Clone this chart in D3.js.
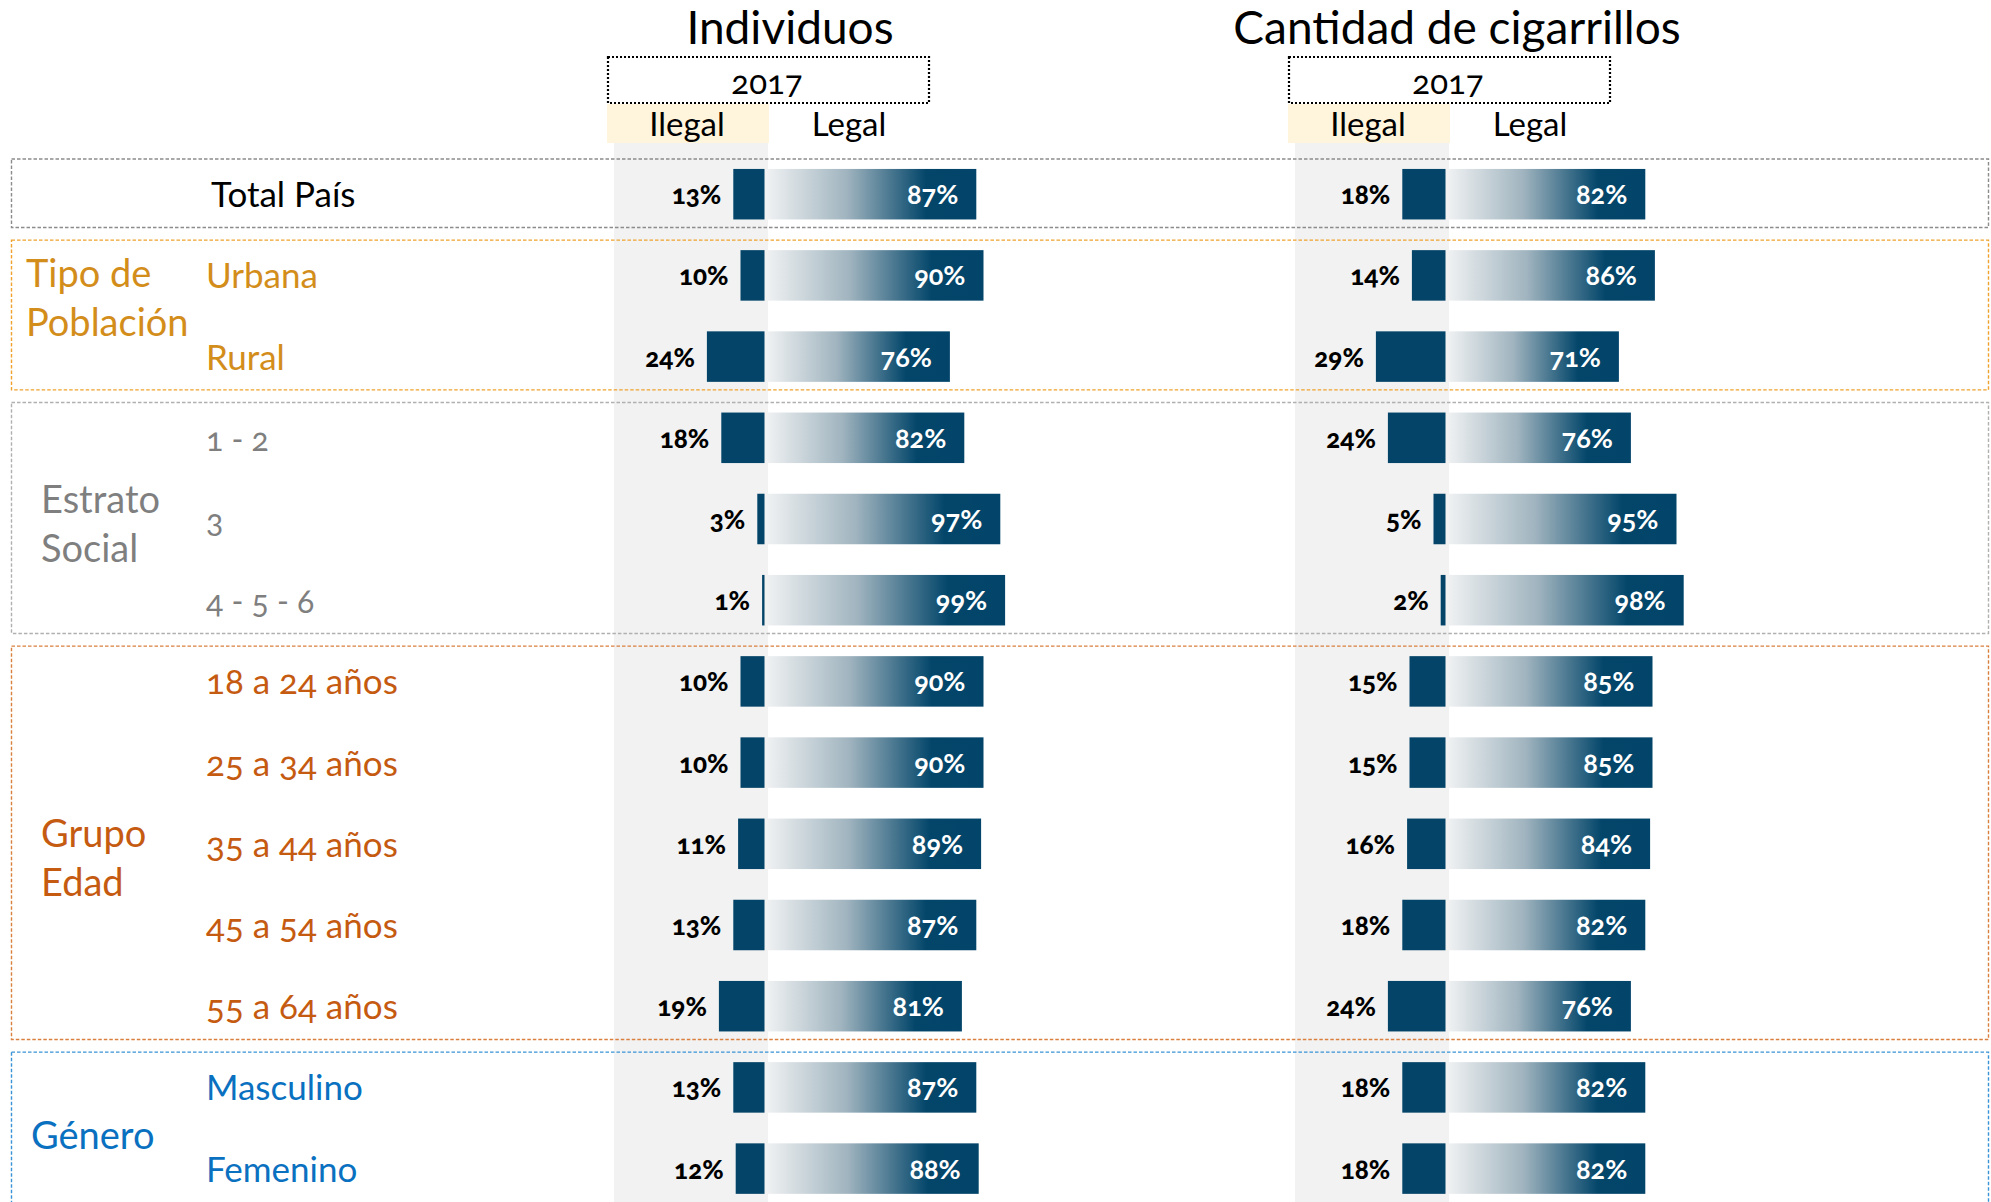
<!DOCTYPE html>
<html>
<head>
<meta charset="utf-8">
<script src="https://cdn.jsdelivr.net/npm/d3@7"></script>
<style>
  body { margin: 0; background: #fff; }
  svg { display: block; font-family: Lato, "Open Sans", sans-serif; }
  .num { font-variant-numeric: oldstyle-nums; font-feature-settings: "onum"; }
</style>
</head>
<body>
<div id="chart"></div>
<script>
// rows of the table, top to bottom
var rows = ["Total País", "Urbana", "Rural", "1 - 2", "3", "4 - 5 - 6",
            "18 a 24 años", "25 a 34 años", "35 a 44 años", "45 a 54 años", "55 a 64 años",
            "Masculino", "Femenino"];

// Individuos, 2017 (%)
var indIlegal = [13, 10, 24, 18, 3, 1, 10, 10, 11, 13, 19, 13, 12];
var indLegal  = [87, 90, 76, 82, 97, 99, 90, 90, 89, 87, 81, 87, 88];

// Cantidad de cigarrillos, 2017 (%)
var cigIlegal = [18, 14, 29, 24, 5, 2, 15, 15, 16, 18, 24, 18, 18];
var cigLegal  = [82, 86, 71, 76, 95, 98, 85, 85, 84, 82, 76, 82, 82];

var panelTitles = ["Individuos", "Cantidad de cigarrillos"];
var yearLabel = "2017";
var colHeads = ["Ilegal", "Legal"];

// row groups: label lines, first and last row index
var groups = [
  {lines: ["Total País"], from: 0, to: 0, key: "total"},
  {lines: ["Tipo de", "Población"], from: 1, to: 2, key: "tipo"},
  {lines: ["Estrato", "Social"], from: 3, to: 5, key: "estrato"},
  {lines: ["Grupo", "Edad"], from: 6, to: 10, key: "edad"},
  {lines: ["Género"], from: 11, to: 12, key: "genero"}
];

(function() {
    var W = 1991, H = 1202;

    // look of each group (colour, label placement)
    var groupStyle = {
        total:   {color: "#000000", box: "#8c8c8c", lx: null, dy: 0},
        tipo:    {color: "#d38d1b", box: "#f0a22e", lx: 26, dy: -17},
        estrato: {color: "#7f7f7f", box: "#b0b0b0", lx: 41, dy: 6},
        edad:    {color: "#c55a11", box: "#d9803f", lx: 41, dy: 16},
        genero:  {color: "#0a70c0", box: "#3a93d6", lx: 31, dy: 9}
    };

    var svg = d3.select("#chart").append("svg")
        .attr("width", W)
        .attr("height", H);

    var defs = svg.append("defs");
    var grad = defs.append("linearGradient")
        .attr("id", "legalGrad")
        .attr("x1", "0%").attr("x2", "100%")
        .attr("y1", "0%").attr("y2", "0%");
    grad.append("stop").attr("offset", "0%").attr("stop-color", "#eff1f2");
    grad.append("stop").attr("offset", "38%").attr("stop-color", "#a0b4bf");
    grad.append("stop").attr("offset", "76%").attr("stop-color", "#03466a");
    grad.append("stop").attr("offset", "100%").attr("stop-color", "#03456a");

    var navy = "#034468";

    // one band per row
    var y = d3.scaleBand()
        .domain(rows)
        .range([153.6, 153.6 + 81.2 * rows.length])
        .paddingInner(0.378)
        .paddingOuter(0.189);
    var bw = y.bandwidth();

    // percent -> pixels
    var x = d3.scaleLinear().domain([0, 100]).range([0, 240]);

    var panels = [
        {title: panelTitles[0], div: 766, titleX: 790, ilegal: indIlegal, legal: indLegal},
        {title: panelTitles[1], div: 1447, titleX: 1457, ilegal: cigIlegal, legal: cigLegal}
    ];

    // grey column behind the Ilegal bars
    svg.selectAll(".greycol").data(panels).enter().append("rect")
        .attr("x", function(d) { return d.div - 152; })
        .attr("y", 143)
        .attr("width", 154)
        .attr("height", H - 143)
        .attr("fill", "#f2f2f2");

    // group boxes (the last one runs off the bottom of the page)
    var boxes = svg.selectAll(".grp").data(groups).enter().append("g");
    boxes.append("rect")
        .attr("x", 11.5)
        .attr("y", function(d) { return y(rows[d.from]) - 10; })
        .attr("width", 1977)
        .attr("height", function(d, i) {
            var bottom = i === groups.length - 1 ? H + 20 : y(rows[d.to]) + bw + 8;
            return bottom - (y(rows[d.from]) - 10);
        })
        .attr("fill", "none")
        .attr("stroke", function(d) { return groupStyle[d.key].box; })
        .attr("stroke-width", 1.4)
        .attr("stroke-dasharray", "3.5 2");

    // group labels
    boxes.filter(function(d) { return groupStyle[d.key].lx !== null; })
        .each(function(d) {
            var st = groupStyle[d.key];
            var mid = (y(rows[d.from]) + y(rows[d.to]) + bw) / 2;
            var first = mid + 12 - (d.lines.length - 1) * 24.5 + st.dy;
            d3.select(this).selectAll("text").data(d.lines).enter().append("text")
                .attr("x", st.lx)
                .attr("y", function(l, i) { return first + i * 49; })
                .attr("fill", st.color)
                .attr("font-size", 38)
                .text(function(l) { return l; });
        });

    // row labels
    var rowColor = rows.map(function(r, i) {
        var g = groups.filter(function(g) { return i >= g.from && i <= g.to; })[0];
        return groupStyle[g.key].color;
    });
    svg.selectAll(".rowlab").data(rows).enter().append("text")
        .attr("class", "num")
        .attr("x", function(d, i) { return i === 0 ? 211 : 206; })
        .attr("y", function(d) { return y(d) + bw / 2 + 13; })
        .attr("fill", function(d, i) { return rowColor[i]; })
        .attr("font-size", function(d, i) { return (i >= 3 && i <= 5) ? 32 : 35; })
        .text(function(d) { return d; });

    panels.forEach(function(p) {
        var g = svg.append("g");

        // headers
        g.append("text")
            .attr("x", p.titleX)
            .attr("y", 44)
            .attr("text-anchor", "middle")
            .attr("font-size", 46)
            .attr("fill", "#000")
            .text(p.title);

        g.append("rect")
            .attr("x", p.div - 158)
            .attr("y", 57)
            .attr("width", 321)
            .attr("height", 46)
            .attr("fill", "none")
            .attr("stroke", "#000")
            .attr("stroke-width", 2.2)
            .attr("stroke-dasharray", "2 2");
        g.append("text")
            .attr("class", "num")
            .attr("x", p.div + 1)
            .attr("y", 94)
            .attr("text-anchor", "middle")
            .attr("font-size", 33)
            .text(yearLabel);

        g.append("rect")
            .attr("x", p.div - 159)
            .attr("y", 104)
            .attr("width", 162)
            .attr("height", 39)
            .attr("fill", "#fff4dc");
        g.append("text")
            .attr("x", p.div - 79)
            .attr("y", 136)
            .attr("text-anchor", "middle")
            .attr("font-size", 33)
            .text(colHeads[0]);
        g.append("text")
            .attr("x", p.div + 83)
            .attr("y", 136)
            .attr("text-anchor", "middle")
            .attr("font-size", 33)
            .text(colHeads[1]);

        // Ilegal bars, growing to the left
        g.selectAll(".il").data(p.ilegal).enter().append("rect")
            .attr("x", function(d) { return p.div - 1.5 - x(d); })
            .attr("y", function(d, i) { return y(rows[i]); })
            .attr("width", function(d) { return x(d); })
            .attr("height", bw)
            .attr("fill", navy);

        g.selectAll(".ilt").data(p.ilegal).enter().append("text")
            .attr("class", "num")
            .attr("x", function(d) { return p.div - 1.5 - x(d) - 12; })
            .attr("y", function(d, i) { return y(rows[i]) + bw / 2 + 10; })
            .attr("text-anchor", "end")
            .attr("font-size", 26)
            .attr("font-weight", 900)
            .attr("fill", "#000")
            .text(function(d) { return d + "%"; });

        // Legal bars, growing to the right
        g.selectAll(".lg").data(p.legal).enter().append("rect")
            .attr("x", p.div + 1.5)
            .attr("y", function(d, i) { return y(rows[i]); })
            .attr("width", function(d) { return x(d); })
            .attr("height", bw)
            .attr("fill", "url(#legalGrad)");

        g.selectAll(".lgt").data(p.legal).enter().append("text")
            .attr("class", "num")
            .attr("x", function(d) { return p.div + 1.5 + x(d) - 18; })
            .attr("y", function(d, i) { return y(rows[i]) + bw / 2 + 10; })
            .attr("text-anchor", "end")
            .attr("font-size", 27)
            .attr("font-weight", "bold")
            .attr("fill", "#fff")
            .text(function(d) { return d + "%"; });
    });
})();
</script>
</body>
</html>
